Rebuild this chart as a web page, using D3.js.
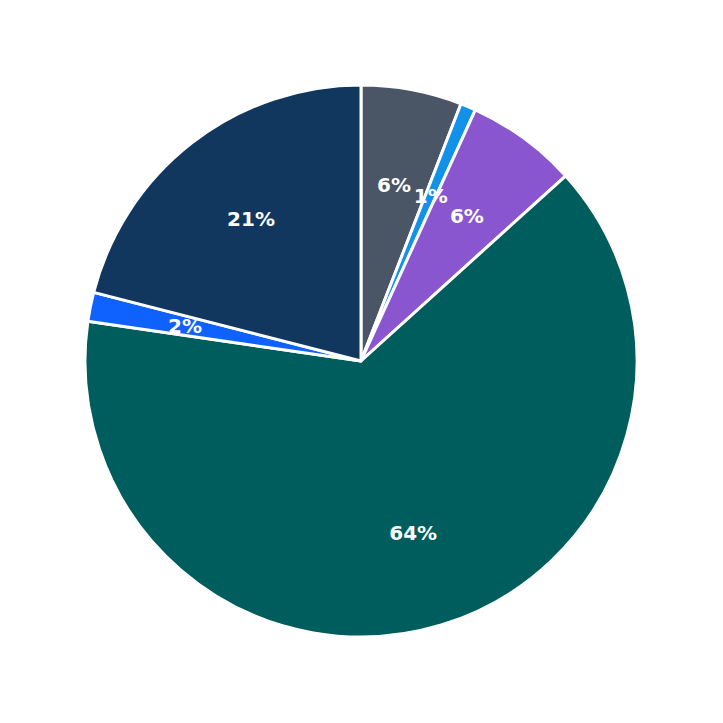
<!DOCTYPE html>
<html><head><meta charset="utf-8">
<script src="https://cdn.jsdelivr.net/npm/d3@7"></script>
<style>body{margin:0;background:#fff}</style>
</head><body>
<div id="chart"></div>
<script>
const values = [5.9, 0.9, 6.5, 64.0, 1.7, 21.0]
const labels = ['6%', '1%', '6%', '64%', '2%', '21%']
const colors = ['#4a5565', '#1192e8', '#8a56d0', '#005d5d', '#0f62fe', '#12375f']

const width = 723, height = 723, r = 276
const svg = d3.select('#chart').append('svg')
  .attr('width', width).attr('height', height)
const g = svg.append('g').attr('transform', `translate(361, 361)`)
const pie = d3.pie().sort(null).value(d => d)
const arcs = pie(values)
const arc = d3.arc().innerRadius(0).outerRadius(r)
const labelArc = d3.arc().innerRadius(r * 0.65).outerRadius(r * 0.65)

g.selectAll('path').data(arcs).enter().append('path')
  .attr('d', arc)
  .attr('fill', (d, i) => colors[i])
  .attr('stroke', '#fff')
  .attr('stroke-width', 3)
  .attr('stroke-linejoin', 'round')

g.selectAll('text').data(arcs).enter().append('text')
  .attr('transform', d => `translate(${labelArc.centroid(d)})`)
  .attr('text-anchor', 'middle')
  .attr('dy', '0.35em')
  .attr('fill', '#fff')
  .style('font-family', 'DejaVu Sans')
  .style('font-weight', 'bold')
  .style('font-size', '20px')
  .text((d, i) => labels[i])
</script>
</body></html>
